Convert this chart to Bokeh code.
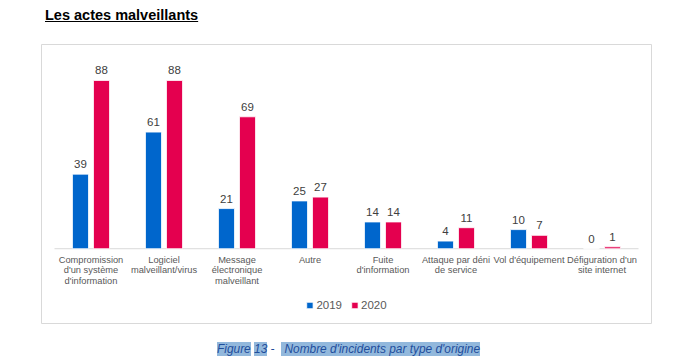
from bokeh.plotting import figure
from bokeh.models import ColumnDataSource, FactorRange, Div, Legend, LegendItem, LabelSet
from bokeh.transform import dodge
from bokeh.layouts import column
from bokeh.core.properties import value
from bokeh.embed import file_html
from bokeh.resources import INLINE

categories = [
    "Compromission\nd'un système\nd'information",
    "Logiciel\nmalveillant/virus",
    "Message\nélectronique\nmalveillant",
    "Autre",
    "Fuite\nd'information",
    "Attaque par déni\nde service",
    "Vol d'équipement",
    "Défiguration d'un\nsite internet",
]
values_2019 = [39, 61, 21, 25, 14, 4, 10, 0]
values_2020 = [88, 88, 69, 27, 14, 11, 7, 1]
series_names = ["2019", "2020"]
colors = ["#0066CC", "#E4004F"]

split = [c.split("\n") for c in categories]
data = dict(cat=categories, v2019=values_2019, v2020=values_2020,
            l2019=[str(v) for v in values_2019],
            l2020=[str(v) for v in values_2020],
            zero=[0] * len(categories))
for k in range(3):
    data[f"line{k}"] = [s[k] if len(s) > k else "" for s in split]
src = ColumnDataSource(data)

p = figure(x_range=FactorRange(*categories, range_padding=0.178, range_padding_units="absolute"),
           y_range=(-39.1, 106.8),
           width=612, height=281, output_backend="svg", toolbar_location=None,
           x_axis_location=None, y_axis_location=None,
           min_border_left=1, min_border_right=1, min_border_top=1, min_border_bottom=1)
p.margin = (3, 0, 0, 40)
p.outline_line_color = "#d9d9d9"
p.outline_line_width = 1
p.grid.visible = False

# category baseline
base = ColumnDataSource(dict(x0=[categories[0]], x1=[categories[-1]], y=[0]))
p.segment(x0=dodge("x0", -0.5, range=p.x_range), x1=dodge("x1", 0.5, range=p.x_range),
          y0="y", y1="y", source=base, line_color="#d9d9d9", line_width=1)

r1 = p.vbar(x=dodge("cat", -0.144, range=p.x_range), top="v2019", width=0.22, source=src,
            fill_color=colors[0], line_color="white", line_width=0.8)
r2 = p.vbar(x=dodge("cat", 0.144, range=p.x_range), top="v2020", width=0.22, source=src,
            fill_color=colors[1], line_color="white", line_width=0.8)

for col, off in (("2019", -0.144), ("2020", 0.144)):
    p.add_layout(LabelSet(x=dodge("cat", off, range=p.x_range), y="v" + col, text="l" + col,
                          source=src, text_align="center", text_baseline="bottom", y_offset=6,
                          text_font=value("Liberation Sans"), text_font_size=value("11.5px"),
                          text_color="#404040"))

# category labels, one centred line at a time
for k in range(3):
    p.add_layout(LabelSet(x="cat", y="zero", text=f"line{k}", source=src,
                          text_align="center", text_baseline="top", y_offset=-6 - 10.7 * k,
                          text_font=value("Liberation Sans"), text_font_size=value("9.3px"),
                          text_color="#595959"))

legend = Legend(items=[LegendItem(label=series_names[0], renderers=[r1]),
                       LegendItem(label=series_names[1], renderers=[r2])],
                orientation="horizontal", location="bottom_center",
                label_text_font="Liberation Sans", label_text_font_size="11.5px",
                label_text_color="#595959", glyph_width=8, glyph_height=8,
                label_height=12, label_standoff=3, spacing=8, padding=0, margin=12,
                border_line_color=None, background_fill_alpha=0)
p.add_layout(legend, "center")

title = Div(text="<u>Les actes malveillants</u>", width=300, height=35,
            styles={"font-family": "Liberation Sans", "font-weight": "bold",
                    "font-size": "14.5px", "color": "#000"})
title.margin = (5, 0, 0, 45)

hl = "background:#92b8dc;"
caption = Div(text=(f"<span style='{hl}'>Figure</span> <span style='{hl}'>13</span> -  "
                    f"<span style='{hl}'>&nbsp;Nombre d'incidents par type d'origine</span>"),
              width=400, height=18,
              styles={"font-family": "Liberation Sans", "font-style": "italic",
                      "font-size": "11.9px", "color": "#1f4e9c", "white-space": "pre"})
caption.margin = (17, 0, 0, 217)

layout = column(title, p, caption)

with open("out.html", "w") as f:
    f.write(file_html(layout, INLINE))
